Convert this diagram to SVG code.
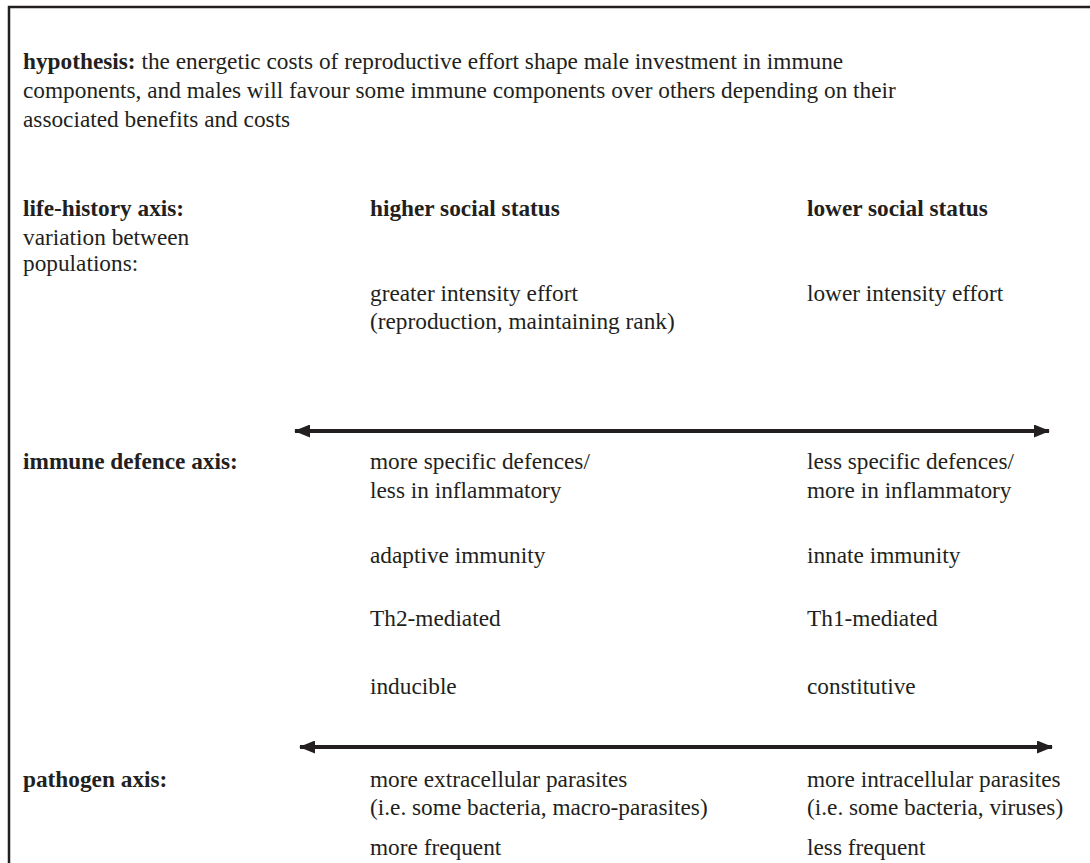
<svg xmlns="http://www.w3.org/2000/svg" width="1090" height="863" viewBox="0 0 1090 863">
<defs>
<style>
text{font-family:"Liberation Serif","Times New Roman",serif;font-size:23.3px;fill:#231f20}
.b{font-weight:bold}
.ax{stroke:#231f20;stroke-width:4;fill:none}
</style>
<marker id="ah" viewBox="0 0 16 13" refX="15" refY="6.5" markerWidth="16" markerHeight="13" markerUnits="userSpaceOnUse" orient="auto-start-reverse">
<path d="M0,0 L16,6.5 L0,13 Z" fill="#231f20"/>
</marker>
</defs>
<rect width="1090" height="863" fill="#fff"/>
<path d="M9,875 V7 H1100" fill="none" stroke="#231f20" stroke-width="2.5"/>
<g id="hypothesis">
<text x="23" y="69"><tspan class="b">hypothesis:</tspan> the energetic costs of reproductive effort shape male investment in immune</text>
<text x="23" y="98">components, and males will favour some immune components over others depending on their</text>
<text x="23" y="127">associated benefits and costs</text>
</g>
<g id="life-history">
<text x="23" y="216" class="b">life-history axis:</text>
<text x="23" y="245">variation between</text>
<text x="23" y="271">populations:</text>
<text x="370" y="216" class="b">higher social status</text>
<text x="807" y="216" class="b">lower social status</text>
<text x="370" y="301">greater intensity effort</text>
<text x="370" y="329">(reproduction, maintaining rank)</text>
<text x="807" y="301">lower intensity effort</text>
</g>
<g id="immune">
<text x="23" y="469" class="b">immune defence axis:</text>
<text x="370" y="469">more specific defences/</text>
<text x="370" y="498">less in inflammatory</text>
<text x="807" y="469">less specific defences/</text>
<text x="807" y="498">more in inflammatory</text>
<text x="370" y="563">adaptive immunity</text>
<text x="807" y="563">innate immunity</text>
<text x="370" y="626">Th2-mediated</text>
<text x="807" y="626">Th1-mediated</text>
<text x="370" y="694">inducible</text>
<text x="807" y="694">constitutive</text>
</g>
<g id="pathogen">
<text x="23" y="787" class="b">pathogen axis:</text>
<text x="370" y="787">more extracellular parasites</text>
<text x="370" y="815">(i.e. some bacteria, macro-parasites)</text>
<text x="807" y="787">more intracellular parasites</text>
<text x="807" y="815">(i.e. some bacteria, viruses)</text>
<text x="370" y="855">more frequent</text>
<text x="807" y="855">less frequent</text>
</g>
<g id="connectors">
<line class="ax" x1="295" y1="431" x2="1049" y2="431" marker-start="url(#ah)" marker-end="url(#ah)"/>
<line class="ax" x1="300" y1="747" x2="1052" y2="747" marker-start="url(#ah)" marker-end="url(#ah)"/>
</g>
</svg>
